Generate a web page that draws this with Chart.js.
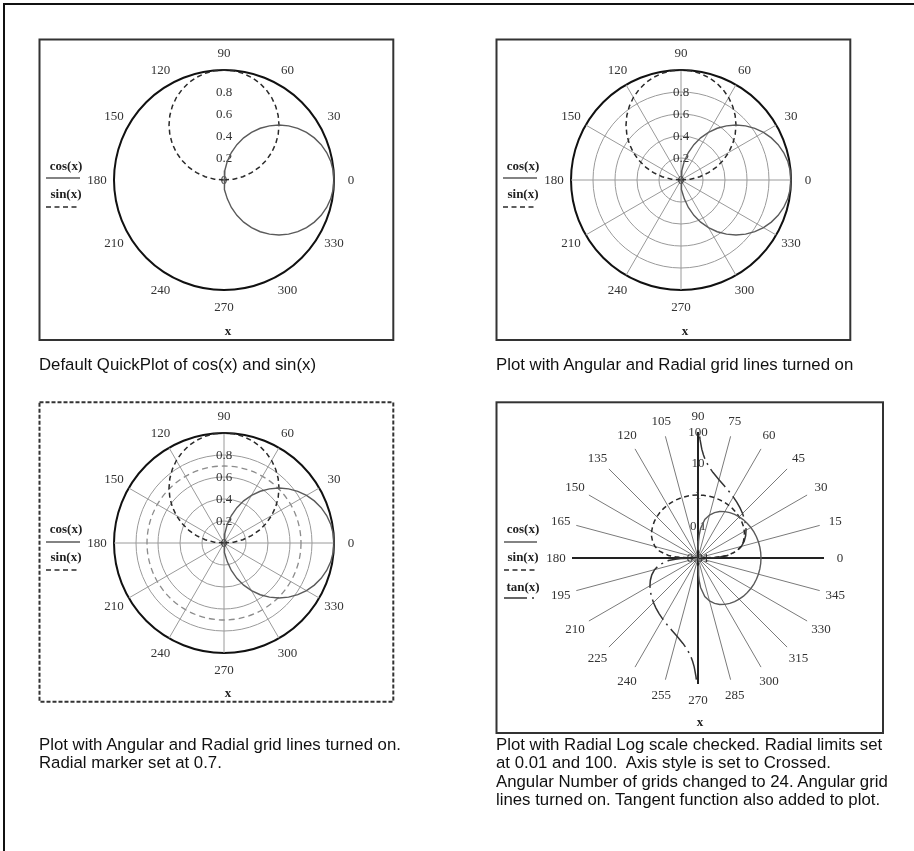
<!DOCTYPE html>
<html><head><meta charset="utf-8">
<script src="https://cdn.jsdelivr.net/npm/chart.js@4/dist/chart.umd.min.js"></script>
<style>
html,body{margin:0;padding:0;background:#fff;}
body{width:914px;height:851px;position:relative;overflow:hidden;}
canvas{position:absolute;left:0;top:0;}
.frame{position:absolute;left:3px;top:3px;width:911px;height:848px;border-top:2px solid #111;border-left:2px solid #111;box-sizing:border-box;}
.cap{position:absolute;font-family:'Liberation Sans',Arial,sans-serif;font-size:16.8px;line-height:18.3px;color:#111;white-space:pre;}
</style></head><body>
<div class="frame"></div>
<canvas id="g1" width="914" height="851"></canvas><canvas id="d1" width="914" height="851"></canvas>
<canvas id="g2" width="914" height="851"></canvas><canvas id="d2" width="914" height="851"></canvas>
<canvas id="g3" width="914" height="851"></canvas><canvas id="d3" width="914" height="851"></canvas>
<canvas id="g4" width="914" height="851"></canvas><canvas id="d4" width="914" height="851"></canvas>
<div class="cap" style="left:39px;top:356px">Default QuickPlot of cos(x) and sin(x)</div>
<div class="cap" style="left:496px;top:356px">Plot with Angular and Radial grid lines turned on</div>
<div class="cap" style="left:39px;top:736px">Plot with Angular and Radial grid lines turned on.
Radial marker set at 0.7.</div>
<div class="cap" style="left:496px;top:736px">Plot with Radial Log scale checked. Radial limits set
at 0.01 and 100.  Axis style is set to Crossed.
Angular Number of grids changed to 24. Angular grid
lines turned on. Tangent function also added to plot.</div>
<script>
// ---------- data ----------
const angleDeg = [0,5,10,15,20,25,30,35,40,45,50,55,60,65,70,75,80,85,90,95,100,105,110,115,120,125,130,135,140,145,150,155,160,165,170,175,180];
const cosVals = [1.000,0.996,0.985,0.966,0.940,0.906,0.866,0.819,0.766,0.707,0.643,0.574,0.500,0.423,0.342,0.259,0.174,0.087,0.000,-0.087,-0.174,-0.259,-0.342,-0.423,-0.500,-0.574,-0.643,-0.707,-0.766,-0.819,-0.866,-0.906,-0.940,-0.966,-0.985,-0.996,-1.000];
const sinVals = [0.000,0.087,0.174,0.259,0.342,0.423,0.500,0.574,0.643,0.707,0.766,0.819,0.866,0.906,0.940,0.966,0.985,0.996,1.000,0.996,0.985,0.966,0.940,0.906,0.866,0.819,0.766,0.707,0.643,0.574,0.500,0.423,0.342,0.259,0.174,0.087,0.000];

const logCosDeg = [-89,-88,-87,-85,-80,-75,-70,-65,-60,-55,-50,-45,-40,-35,-30,-25,-20,-15,-10,-5,0,5,10,15,20,25,30,35,40,45,50,55,60,65,70,75,80,85,87,88,89];
const logCosVals = [0.0175,0.0349,0.0523,0.0872,0.174,0.259,0.342,0.423,0.500,0.574,0.643,0.707,0.766,0.819,0.866,0.906,0.940,0.966,0.985,0.996,1.000,0.996,0.985,0.966,0.940,0.906,0.866,0.819,0.766,0.707,0.643,0.574,0.500,0.423,0.342,0.259,0.174,0.0872,0.0523,0.0349,0.0175];
const logSinDeg = [1,2,3,5,10,15,20,25,30,35,40,45,50,55,60,65,70,75,80,85,90,95,100,105,110,115,120,125,130,135,140,145,150,155,160,165,170,175,177,178,179];
const logSinVals = [0.0175,0.0349,0.0523,0.0872,0.174,0.259,0.342,0.423,0.500,0.574,0.643,0.707,0.766,0.819,0.866,0.906,0.940,0.966,0.985,0.996,1.000,0.996,0.985,0.966,0.940,0.906,0.866,0.819,0.766,0.707,0.643,0.574,0.500,0.423,0.342,0.259,0.174,0.0872,0.0523,0.0349,0.0175];
const tanDegA = [1,2,3,5,10,15,20,25,30,35,40,45,50,55,60,65,70,75,80,82,84,85,86,87,88,89,89.5];
const tanValsA = [0.0175,0.0349,0.0524,0.0875,0.176,0.268,0.364,0.466,0.577,0.700,0.839,1.000,1.192,1.428,1.732,2.145,2.747,3.732,5.671,7.115,9.514,11.43,14.30,19.08,28.64,57.29,114.6];
const tanDegB = [181,182,183,185,190,195,200,205,210,215,220,225,230,235,240,245,250,255,260,262,264,265,266,267,268,269,269.5];
const tanValsB = [0.0175,0.0349,0.0524,0.0875,0.176,0.268,0.364,0.466,0.577,0.700,0.839,1.000,1.192,1.428,1.732,2.145,2.747,3.732,5.671,7.115,9.514,11.43,14.30,19.08,28.64,57.29,114.6];

const angleLabels12 = ['90','60','30','0','330','300','270','240','210','180','150','120'];
const angleLabels24 = ['90','75','60','45','30','15','0','345','330','315','300','285','270','255','240','225','210','195','180','165','150','135','120','105'];
const radialTickLabels = ['0','0.2','0.4','0.6','0.8'];
const logTickLabels = ['0.01','0.1','1','10','100'];
const legendLabels = ['cos(x)','sin(x)','tan(x)'];
const radialMarker = 0.7;
const logLimits = [0.01, 100];

// ---------- styles / layout ----------
const W = 914, H = 851;
const SERIF = '"Liberation Serif","Times New Roman",serif';
const seriesStyle = [
  {color:'#5a5a5a', width:1.4, dash:[]},
  {color:'#2a2a2a', width:1.5, dash:[5,3.5]},
  {color:'#333333', width:1.5, dash:[23,5,2,5]}
];
const panels = [
  {n:1, cx:224, cy:180, R:110, labels:angleLabels12, gridCircles:false, spokes:false, marker:false, log:false,
   frame:[39.5,39.5,393.3,340], dashed:false, legCx:66, legX:[46,80], legText:[167,195], legLine:[178,207], xLab:[228,332]},
  {n:2, cx:681, cy:180, R:110, labels:angleLabels12, gridCircles:true, spokes:true, marker:false, log:false,
   frame:[496.5,39.5,850.3,340], dashed:false, legCx:523, legX:[503,537], legText:[167,195], legLine:[178,207], xLab:[685,332]},
  {n:3, cx:224, cy:543, R:110, labels:angleLabels12, gridCircles:true, spokes:true, marker:true, log:false,
   frame:[39.5,402.3,393.3,701.7], dashed:true, legCx:66, legX:[46,80], legText:[530,558], legLine:[542,570], xLab:[228,694]},
  {n:4, cx:698, cy:558, R:126, labels:angleLabels24, gridCircles:false, spokes:true, marker:false, log:true,
   frame:[496.5,402.3,883,733], dashed:false, legCx:523, legX:[504,537], legText:[530,558,588], legLine:[542,570,598], xLab:[700,723]}
];

function pad(p){ return {left:p.cx-p.R, top:p.cy-p.R, right:W-p.cx-p.R, bottom:H-p.cy-p.R}; }

function decor(p){
  return {
    id:'decor'+p.n,
    afterDraw(chart){
      const ctx = chart.ctx, s = chart.scales.r;
      ctx.save();
      // frame
      ctx.strokeStyle = '#333'; ctx.lineWidth = 2;
      ctx.setLineDash(p.dashed ? [4,2] : []);
      const f = p.frame;
      ctx.strokeRect(f[0], f[1], f[2]-f[0], f[3]-f[1]);
      ctx.setLineDash([]);
      // radial marker
      if (p.marker){
        ctx.strokeStyle = '#8c8c8c'; ctx.lineWidth = 1.3; ctx.setLineDash([6,4]);
        ctx.beginPath(); ctx.arc(s.xCenter, s.yCenter, s.getDistanceFromCenterForValue(radialMarker), 0, Math.PI*2); ctx.stroke();
        ctx.setLineDash([]);
      }
      ctx.fillStyle = '#333';
      ctx.textAlign = 'center'; ctx.textBaseline = 'middle';
      ctx.font = '13px ' + SERIF;
      // angle labels
      const gap = p.log ? 16 : 17;
      p.labels.forEach((lab, i) => {
        const pt = s.getPointPosition(i, s.drawingArea + gap);
        ctx.fillText(lab, pt.x, pt.y + 0.5);
      });
      // radial tick labels (all but the outer limit)
      const tl = p.log ? logTickLabels : radialTickLabels;
      s.ticks.forEach((t, i) => {
        if (i >= tl.length) return;
        const pt = s.getPointPosition(0, s.getDistanceFromCenterForValue(t.value));
        ctx.fillText(tl[i], pt.x, pt.y + 0.5);
      });
      // legend
      const nLeg = p.legText.length;
      for (let k = 0; k < nLeg; k++){
        ctx.font = 'bold 13px ' + SERIF; ctx.fillStyle = '#222';
        ctx.fillText(legendLabels[k], p.legCx, p.legText[k]);
        const st = seriesStyle[k];
        ctx.strokeStyle = st.color; ctx.lineWidth = st.width; ctx.setLineDash(st.dash);
        ctx.beginPath(); ctx.moveTo(p.legX[0], p.legLine[k]); ctx.lineTo(p.legX[1], p.legLine[k]); ctx.stroke();
      }
      ctx.setLineDash([]);
      // axis variable label
      ctx.font = 'bold 13px ' + SERIF; ctx.fillStyle = '#222';
      ctx.fillText('x', p.xLab[0], p.xLab[1]);
      ctx.restore();
    }
  };
}

function makeGrid(p){
  const isLog = p.log;
  new Chart(document.getElementById('g'+p.n), {
    type:'radar',
    data:{labels:p.labels, datasets:[]},
    options:{
      responsive:false, animation:false, events:[], devicePixelRatio:1,
      layout:{padding:pad(p)},
      plugins:{legend:{display:false}, tooltip:{enabled:false}},
      scales:{r:{
        min:0, max: isLog ? 4 : 1, startAngle:0,
        ticks:{display:false, stepSize: isLog ? 1 : 0.2},
        pointLabels:{display:false},
        grid:{
          display: !isLog, circular:true,
          color: c => Math.abs(c.tick.value - 1) < 1e-6 ? '#111' : '#9a9a9a',
          lineWidth: c => Math.abs(c.tick.value - 1) < 1e-6 ? 2 : (p.gridCircles ? 1 : 0)
        },
        angleLines:{
          display: p.spokes,
          color: c => (isLog && c.index % 6 === 0) ? '#222' : (isLog ? '#7a7a7a' : '#9a9a9a'),
          lineWidth: c => (isLog && c.index % 6 === 0) ? 2 : 1
        }
      }}
    },
    plugins:[decor(p)]
  });
}

function toXY(deg, vals, rf){
  return deg.map((d, i) => {
    const r = rf(vals[i]); const a = d * Math.PI / 180;
    return {x: r * Math.cos(a), y: r * Math.sin(a)};
  });
}
const linR = v => v;
const logR = v => Math.log10(Math.min(v, logLimits[1]) / logLimits[0]);

function ds(points, k){
  const st = seriesStyle[k];
  return {data:points, showLine:true, borderColor:st.color, borderWidth:st.width, borderDash:st.dash,
          pointRadius:0, fill:false, tension:0, clip:false};
}

function makeData(p){
  const m = p.log ? 4 : 1;
  let datasets;
  if (p.log){
    datasets = [ds(toXY(logCosDeg, logCosVals, logR), 0), ds(toXY(logSinDeg, logSinVals, logR), 1),
                ds(toXY(tanDegA, tanValsA, logR), 2), ds(toXY(tanDegB, tanValsB, logR), 2)];
  } else {
    datasets = [ds(toXY(angleDeg, cosVals, linR), 0), ds(toXY(angleDeg, sinVals, linR), 1)];
  }
  new Chart(document.getElementById('d'+p.n), {
    type:'scatter',
    data:{datasets},
    options:{
      responsive:false, animation:false, events:[], devicePixelRatio:1,
      layout:{padding:pad(p)},
      plugins:{legend:{display:false}, tooltip:{enabled:false}},
      scales:{x:{type:'linear', min:-m, max:m, display:false}, y:{type:'linear', min:-m, max:m, display:false}}
    }
  });
}

panels.forEach(p => { makeGrid(p); makeData(p); });
</script>
</body></html>
